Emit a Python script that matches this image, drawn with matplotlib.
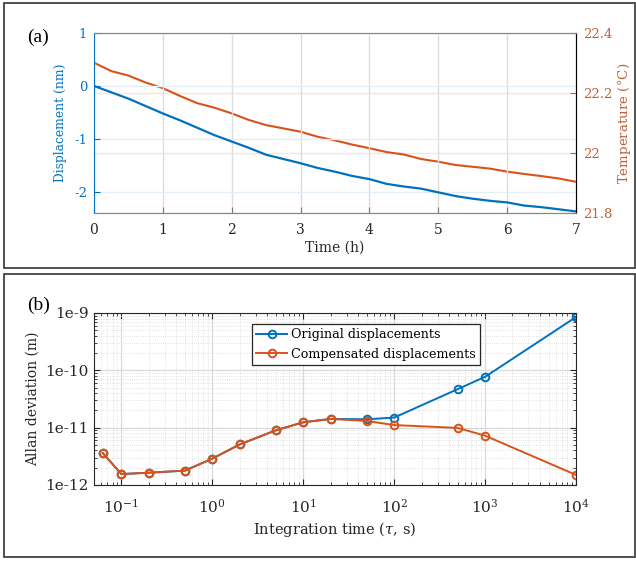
import numpy as np
import matplotlib
matplotlib.use("Agg")
import matplotlib.pyplot as plt
from matplotlib.patches import Rectangle
from matplotlib.ticker import LogLocator, NullFormatter, FixedLocator, FixedFormatter

plt.rcParams['font.family'] = ['DejaVu Serif']
plt.rcParams['mathtext.fontset'] = 'dejavuserif'

# (a) drift over 7 h
time_h = [0, 0.25, 0.5, 0.75, 1.0, 1.25, 1.5, 1.75, 2.0, 2.25, 2.5, 2.75, 3.0, 3.25, 3.5,
          3.75, 4.0, 4.25, 4.5, 4.75, 5.0, 5.25, 5.5, 5.75, 6.0, 6.25, 6.5, 6.75, 7.0]
disp_nm = [0, -0.12, -0.24, -0.38, -0.52, -0.65, -0.79, -0.93, -1.05, -1.17, -1.30, -1.38,
           -1.46, -1.55, -1.62, -1.70, -1.76, -1.85, -1.90, -1.94, -2.01, -2.08, -2.13,
           -2.17, -2.20, -2.26, -2.29, -2.33, -2.37]
temp_c = [22.301, 22.273, 22.258, 22.235, 22.216, 22.190, 22.166, 22.151, 22.132, 22.110,
          22.093, 22.082, 22.071, 22.054, 22.042, 22.028, 22.016, 22.003, 21.995, 21.980,
          21.971, 21.960, 21.954, 21.948, 21.938, 21.930, 21.923, 21.915, 21.904]
disp_ticks = [-2, -1, 0, 1]
temp_ticks = [21.8, 22.0, 22.2, 22.4]
temp_labels = ['21.8', '22', '22.2', '22.4']

# (b) Allan deviation
tau = [0.0625, 0.1, 0.2, 0.5, 1, 2, 5, 10, 20, 50, 100, 500, 1000, 10000]
adev_orig = [3.6e-12, 1.55e-12, 1.64e-12, 1.78e-12, 2.88e-12, 5.1e-12, 9.0e-12, 1.24e-11,
             1.42e-11, 1.40e-11, 1.50e-11, 4.7e-11, 7.7e-11, 8.5e-10]
adev_comp = [3.6e-12, 1.55e-12, 1.64e-12, 1.78e-12, 2.88e-12, 5.1e-12, 9.0e-12, 1.24e-11,
             1.42e-11, 1.31e-11, 1.11e-11, 9.9e-12, 7.25e-12, 1.5e-12]
adev_ticks = [1e-12, 1e-11, 1e-10, 1e-9]
adev_labels = ['1e-12', '1e-11', '1e-10', '1e-9']

blue = '#0072BD'
orange = '#D95319'
rcol = '#C0623A'
W, H = 636, 561

fig = plt.figure(figsize=(6.36, 5.61), dpi=100)

# panel frames
fig.patches.append(Rectangle((4 / W, 1 - 268 / H), 631 / W, 265 / H, transform=fig.transFigure,
                             fill=False, edgecolor='#333333', lw=1.2))
fig.patches.append(Rectangle((4 / W, 1 - 557 / H), 631 / W, 283 / H, transform=fig.transFigure,
                             fill=False, edgecolor='#333333', lw=1.2))

# ---- (a)
ax = fig.add_axes([94 / W, 1 - 213 / H, 482 / W, 180 / H])
ax.plot(time_h, disp_nm, color=blue, lw=1.6)
ax.set_xlim(0, 7)
ax.set_ylim(-2.4, 1)
ax.set_yticks(disp_ticks)
ax.set_yticklabels(['-2', '-1', '0', '1'])
ax.set_xticks(range(8))
ax.grid(axis='x', color='#dddddd', lw=1)
ax.grid(axis='y', color='#e3eef8', lw=1)
ax.tick_params(axis='y', direction='in', colors=blue, labelsize=9.5, left=True, right=True,
               length=4, pad=5)
ax.tick_params(axis='x', direction='in', colors='#777777', labelcolor='#262626', labelsize=10,
               length=4, pad=7)
ax.set_xlabel('Time (h)', fontsize=10, color='#262626', labelpad=3)
ax.set_ylabel('Displacement (nm)', fontsize=8.8, color=blue, labelpad=5)
for s in ['top', 'bottom']:
    ax.spines[s].set_color('#888888')
ax.spines['left'].set_color(blue)

ax2 = ax.twinx()
ax2.plot(time_h, temp_c, color=orange, lw=1.5)
ax2.set_ylim(21.8, 22.4)
ax2.yaxis.set_major_locator(FixedLocator(temp_ticks))
ax2.yaxis.set_major_formatter(FixedFormatter(temp_labels))
ax2.grid(axis='y', color='#f8e4e0', lw=1)
ax2.tick_params(axis='y', direction='in', colors=rcol, labelsize=9.5, length=4, pad=5)
ax2.set_ylabel('Temperature ($\\degree$C)', fontsize=9.6, color=rcol, labelpad=3)
ax2.spines['right'].set_color(rcol)
ax2.spines['left'].set_visible(False)
ax2.spines['top'].set_color('#888888')
ax2.spines['bottom'].set_color('#888888')
ax.set_zorder(ax2.get_zorder() + 1)
ax.patch.set_visible(False)

fig.text(27 / W, 1 - 37 / H, '(a)', fontsize=14, family='Liberation Serif', va='center')

# ---- (b)
bx = fig.add_axes([94 / W, 1 - 485 / H, 482 / W, 172 / H])
bx.loglog(tau, adev_orig, '-o', color=blue, lw=1.4, ms=5.5, mfc='none', mew=1.4,
          label='Original displacements')
bx.loglog(tau, adev_comp, '-o', color=orange, lw=1.4, ms=5.5, mfc='none', mew=1.4,
          label='Compensated displacements')
bx.set_xlim(0.05, 1e4)
bx.set_ylim(1e-12, 1e-9)
bx.yaxis.set_major_locator(FixedLocator(adev_ticks))
bx.yaxis.set_major_formatter(FixedFormatter(adev_labels))
bx.yaxis.set_minor_locator(LogLocator(base=10, subs=np.arange(2, 10), numticks=20))
bx.yaxis.set_minor_formatter(NullFormatter())
bx.xaxis.set_major_locator(LogLocator(base=10, numticks=20))
bx.xaxis.set_minor_locator(LogLocator(base=10, subs=np.arange(2, 10), numticks=20))
bx.xaxis.set_minor_formatter(NullFormatter())
bx.grid(which='major', color='#d9d9d9', lw=0.9)
bx.grid(which='minor', color='#d9d9d9', lw=0.6, ls=':')
bx.tick_params(which='both', direction='in', top=True, right=True, colors='#262626')
bx.tick_params(axis='y', labelsize=11, pad=4)
bx.tick_params(axis='x', labelsize=11, pad=9)
bx.tick_params(which='major', length=4)
bx.tick_params(which='minor', length=2)
bx.set_xlabel('Integration time ($\\tau$, s)', fontsize=10.5, color='#262626', labelpad=3)
bx.set_ylabel('Allan deviation (m)', fontsize=10, color='#262626', labelpad=4)
for s in bx.spines.values():
    s.set_color('#262626')
leg = bx.legend(loc='upper center', bbox_to_anchor=(0.564, 0.975), fontsize=9.2,
                fancybox=False, framealpha=1, edgecolor='#262626', handlelength=2.4,
                borderpad=0.35, labelspacing=0.5, handletextpad=0.3)
leg.get_frame().set_linewidth(0.9)

fig.text(27 / W, 1 - 305 / H, '(b)', fontsize=14, family='Liberation Serif', va='center')

fig.savefig('out.png', dpi=100)
